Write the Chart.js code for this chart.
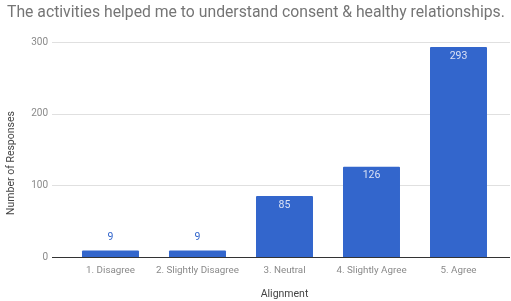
<!DOCTYPE html>
<html>
<head>
<meta charset="utf-8">
<script src="https://cdn.jsdelivr.net/npm/chart.js@4"></script>
<style>
  html, body { margin: 0; padding: 0; background: #fff; }
  #wrap { width: 511px; height: 301px; }
</style>
</head>
<body>
<div id="wrap"><canvas id="chart" width="511" height="301"></canvas></div>
<script>
const categories = ['1. Disagree', '2. Slightly Disagree', '3. Neutral', '4. Slightly Agree', '5. Agree'];
const responses = [9, 9, 85, 126, 293];
const yTicks = [0, 100, 200, 300];

const titleText = 'The activities helped me to understand consent & healthy relationships.';
const barColor = '#3366cc';

// gridlines drawn a bit wider than the bars area, like the original
const gridPlugin = {
    id: 'grid',
    beforeDatasetsDraw(chart) {
        const ctx = chart.ctx;
        const y = chart.scales.y;
        ctx.save();
        yTicks.forEach(v => {
            const py = Math.round(y.getPixelForValue(v)) + 0.5;
            ctx.strokeStyle = v === 0 ? '#333333' : '#e0e0e0';
            ctx.lineWidth = 1;
            ctx.beginPath();
            ctx.moveTo(52, py);
            ctx.lineTo(510, py);
            ctx.stroke();
        });
        ctx.restore();
    },
    afterDraw(chart) {
        const ctx = chart.ctx;
        ctx.save();
        // title, sized to span the same width as the original
        let size = 17;
        ctx.font = size + 'px Roboto';
        const w = ctx.measureText(titleText).width;
        size = size * 498 / w;
        ctx.font = size + 'px Roboto';
        ctx.fillStyle = '#757575';
        ctx.textAlign = 'left';
        ctx.textBaseline = 'middle';
        ctx.fillText(titleText, 7, 13);

        // y axis title
        ctx.font = '10.5px Roboto';
        ctx.fillStyle = '#444444';
        ctx.textAlign = 'center';
        ctx.translate(11, 163);
        ctx.rotate(-Math.PI / 2);
        ctx.fillText('Number of Responses', 0, 0);
        ctx.restore();
    }
};

const labelPlugin = {
    id: 'barLabels',
    afterDatasetsDraw(chart) {
        const ctx = chart.ctx;
        const meta = chart.getDatasetMeta(0);
        ctx.save();
        ctx.font = '10.5px Roboto';
        ctx.textAlign = 'center';
        ctx.textBaseline = 'middle';
        meta.data.forEach((bar, i) => {
            const h = bar.base - bar.y;
            if (h > 22) {
                ctx.fillStyle = '#d9e1f5';
                ctx.fillText(responses[i], bar.x, bar.y + 9);
            } else {
                ctx.fillStyle = '#3366cc';
                ctx.fillText(responses[i], bar.x, bar.y - 13);
            }
        });
        ctx.restore();
    }
};

const ctx = document.getElementById('chart').getContext('2d');
new Chart(ctx, {
    type: 'bar',
    data: {
        labels: categories,
        datasets: [{
            label: 'Responses',
            data: responses,
            backgroundColor: barColor,
            borderWidth: 0,
            borderRadius: 1,
            categoryPercentage: 1,
            barPercentage: 0.655
        }]
    },
    options: {
        responsive: false,
        animation: false,
        layout: { padding: { top: 42, right: 9, left: 0, bottom: 0 } },
        plugins: {
            legend: { display: false },
            tooltip: { enabled: false }
        },
        scales: {
            x: {
                grid: { display: false },
                border: { display: false },
                ticks: {
                    color: '#8a8a8a',
                    font: { family: 'Roboto', size: 9.8 },
                    maxRotation: 0,
                    autoSkip: false,
                    padding: 0
                },
                title: {
                    display: true,
                    text: 'Alignment',
                    color: '#444444',
                    font: { family: 'Roboto', size: 10.5 },
                    padding: { top: 12, bottom: 0 }
                },
                afterFit(scale) { scale.height = 44; }
            },
            y: {
                min: 0,
                max: 300,
                grid: { display: false },
                border: { display: false },
                afterBuildTicks(scale) {
                    scale.ticks = yTicks.map(v => ({ value: v }));
                },
                ticks: {
                    color: '#8a8a8a',
                    font: { family: 'Roboto', size: 10 },
                    padding: 11
                },
                afterFit(scale) { scale.width = 67; }
            }
        }
    },
    plugins: [gridPlugin, labelPlugin]
});
</script>
</body>
</html>
